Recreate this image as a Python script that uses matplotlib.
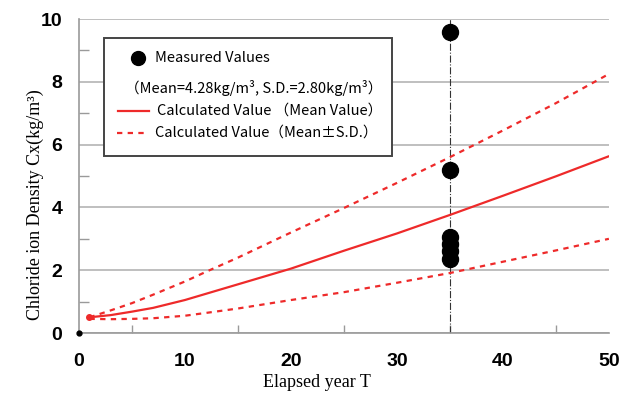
import numpy as np
import matplotlib.pyplot as plt
from matplotlib.patches import Rectangle

# elapsed years for the calculated curves
years = [1, 3, 5, 7, 10, 12, 15, 20, 25, 30, 35, 40, 45, 50]
calc_mean = [0.50, 0.57, 0.68, 0.80, 1.05, 1.25, 1.55, 2.05, 2.62, 3.17, 3.76, 4.37, 4.99, 5.63]
calc_upper = [0.50, 0.72, 0.95, 1.22, 1.64, 1.95, 2.40, 3.20, 3.98, 4.78, 5.60, 6.45, 7.32, 8.25]
calc_lower = [0.45, 0.44, 0.45, 0.47, 0.55, 0.64, 0.78, 1.05, 1.30, 1.60, 1.91, 2.27, 2.63, 3.00]

# measured values at T = 35 years
meas_year = 35
meas_values = [9.60, 5.20, 3.05, 2.85, 2.60, 2.35]

red = '#ee2a2a'
jp = ['Noto Sans CJK JP', 'DejaVu Sans']

fig = plt.figure(figsize=(6.21, 3.98), dpi=100)
ax = fig.add_axes([0.127, 0.1633, 0.8535, 0.7889])

ax.plot(years, calc_mean, color=red, lw=1.6, marker='o', ms=4, markevery=[0],
        solid_capstyle='round')
ax.plot(years, calc_upper, color=red, lw=1.6, dashes=(2.4, 2.4))
ax.plot(years, calc_lower, color=red, lw=1.6, dashes=(2.4, 2.4))
ax.plot([meas_year, meas_year], [0, 10], color='#333333', lw=0.8, ls='-.', zorder=1)
ax.plot([meas_year] * len(meas_values), meas_values, 'o', color='black', ms=11.5,
        zorder=4, clip_on=False)
ax.plot([0], [0], 'o', color='black', ms=3.5, clip_on=False, zorder=5)

ax.set_xlim(0, 50)
ax.set_ylim(0, 10)
ax.set_xticks(np.arange(0, 51, 10))
ax.set_xticks(np.arange(0, 51, 5), minor=True)
ax.set_yticks(np.arange(0, 11, 2))
ax.set_yticks(np.arange(0, 11, 1), minor=True)
ax.grid(axis='y', which='major', color='#b4b4b4', lw=1.2)
ax.set_axisbelow(True)

for s in ['top', 'right']:
    ax.spines[s].set_visible(False)
for s in ['left', 'bottom']:
    ax.spines[s].set_color('#9a9a9a')
    ax.spines[s].set_linewidth(1.2)

ax.tick_params(axis='both', which='both', direction='in', color='#9a9a9a', width=1)
ax.tick_params(axis='y', which='major', length=0, pad=12)
ax.tick_params(axis='y', which='minor', length=7)
ax.tick_params(axis='x', which='major', length=0, pad=14.5)
ax.tick_params(axis='x', which='minor', length=6)
for lab in ax.get_xticklabels() + ax.get_yticklabels():
    lab.set_fontfamily('Liberation Sans')
    lab.set_fontweight('bold')
    lab.set_fontsize(14)

ax.set_xlabel('Elapsed year T', fontfamily='Liberation Serif', fontsize=13)
ax.xaxis.set_label_coords(0.449, -0.13)
ax.set_ylabel('Chloride ion Density Cx(kg/m³)', fontfamily='Liberation Serif', fontsize=13)
ax.yaxis.set_label_coords(-0.066, 0.41)

# legend box
tr = ax.transAxes
ax.add_patch(Rectangle((0.0472, 0.564), 0.5434, 0.375, transform=tr, fill=True,
                       facecolor='white', edgecolor='#444444', lw=1.4, zorder=6))
ax.plot([0.1113], [0.876], 'o', color='black', ms=10, transform=tr, zorder=7)
ax.text(0.1434, 0.876, 'Measured Values', transform=tr, va='center', ha='left',
        fontfamily=jp, fontsize=10.5, zorder=7)
ax.text(0.0870, 0.780, '（Mean=4.28kg/m³, S.D.=2.80kg/m³）', transform=tr, va='center',
        ha='left', fontfamily=jp, fontsize=10.5, zorder=7)
ax.plot([0.0736, 0.1321], [0.707, 0.707], color=red, lw=1.6, transform=tr, zorder=7)
ax.text(0.147, 0.707, 'Calculated Value （Mean Value）', transform=tr, va='center',
        ha='left', fontfamily=jp, fontsize=10.5, zorder=7)
ax.plot([0.0717, 0.130], [0.637, 0.637], color=red, lw=1.6, dashes=(2.4, 2.4),
        transform=tr, zorder=7)
ax.text(0.1434, 0.637, 'Calculated Value（Mean±S.D.）', transform=tr, va='center',
        ha='left', fontfamily=jp, fontsize=10.5, zorder=7)

fig.savefig('out.png', dpi=100)
